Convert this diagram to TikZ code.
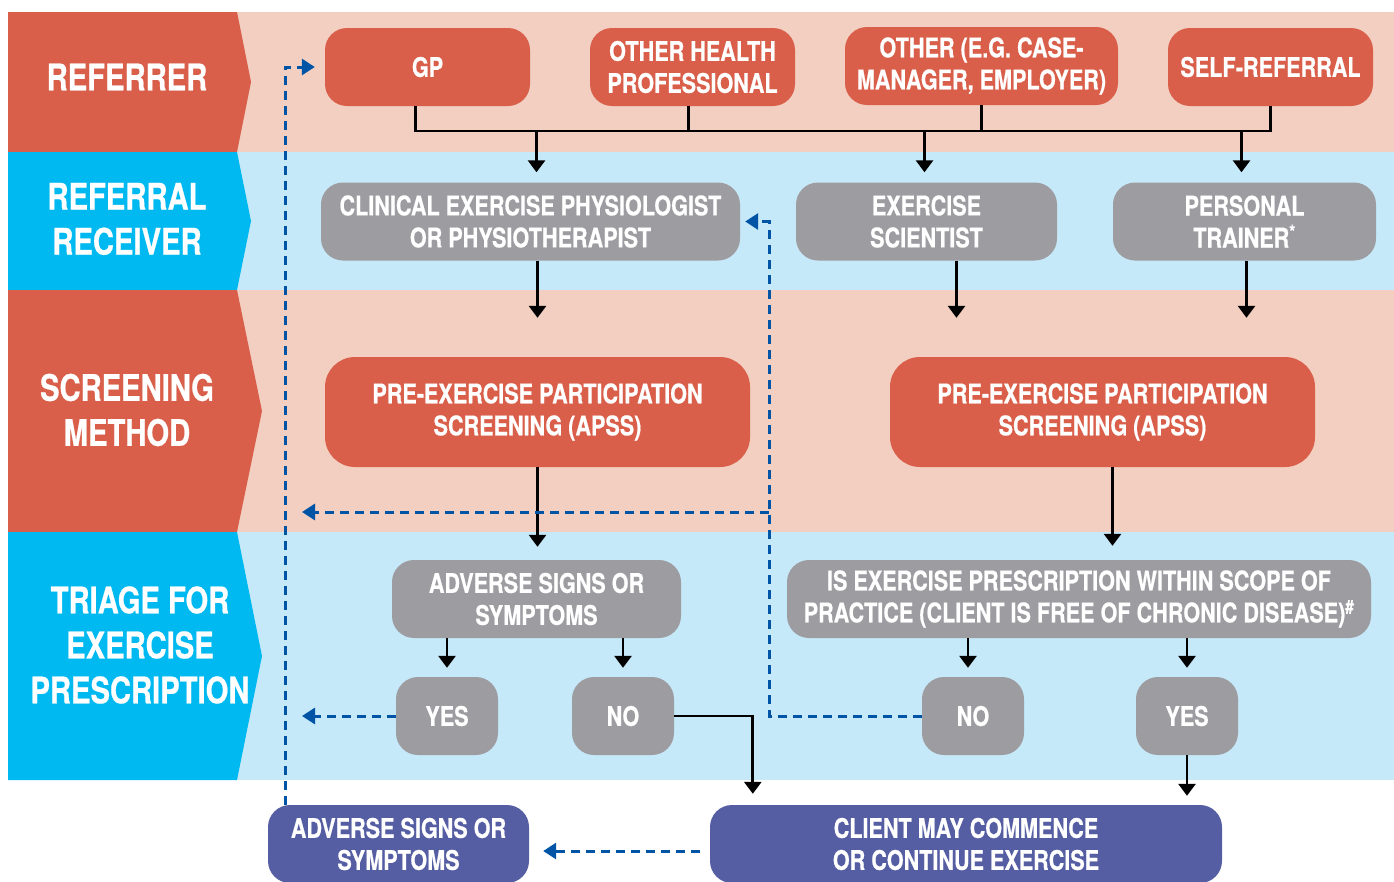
\documentclass[tikz,border=0pt]{standalone}
\usepackage{fontspec}
\setmainfont{TeX Gyre Heros}[FakeStretch=0.8, BoldFeatures={FakeBold=0.6}]
\usepackage{tikz}
\usetikzlibrary{positioning, calc, arrows.meta}
\definecolor{lanered}{RGB}{217,95,74}
\definecolor{lanepink}{RGB}{242,207,193}
\definecolor{lanecyan}{RGB}{0,185,240}
\definecolor{laneblue}{RGB}{198,233,249}
\definecolor{boxgrey}{RGB}{157,156,161}
\definecolor{boxpurple}{RGB}{86,94,163}
\definecolor{backblue}{RGB}{0,84,166}
\tikzstyle{Flow} = [
    line width = 2.8pt,
    -{Triangle[width=17pt, length=12pt]}
]
\tikzstyle{Link} = [line width = 2.8pt]
\tikzstyle{Back} = [
    line width = 3pt, draw = backblue,
    dash pattern = on 9pt off 6pt,
    -{Triangle[width=16pt, length=13pt]}
]

\begin{document}
\begin{tikzpicture}[
x = 1pt, y = -1pt,
box/.style={
    rectangle,
    rounded corners = 22pt,
    align = center,
    text = white,
    inner sep = 0pt,
    minimum height = 78pt,
    font = \fontsize{27}{32}\selectfont\bfseries
    },
redbox/.style = {box, fill = lanered},
greybox/.style = {box, fill = boxgrey},
purplebox/.style = {box, fill = boxpurple},
lanetext/.style = {
    align = center,
    text = white,
    font = \fontsize{36.5}{45}\selectfont\bfseries
    }
]
\useasboundingbox (0,0) rectangle (1394,881);
\clip (0,0) rectangle (1394,881);

% lanes
\fill[lanepink] (8,12) rectangle (1394,152);
\fill[laneblue] (8,152) rectangle (1394,290);
\fill[lanepink] (8,290) rectangle (1394,532);
\fill[laneblue] (8,532) rectangle (1394,780);

\fill[lanered] (8,12) -- (237,12) -- (251,82) -- (237,152) -- (8,152) -- cycle;
\fill[lanecyan] (8,152) -- (237,152) -- (251,221) -- (237,290) -- (8,290) -- cycle;
\fill[lanered] (8,290) -- (237,290) -- (262,411) -- (237,532) -- (8,532) -- cycle;
\fill[lanecyan] (8,532) -- (237,532) -- (262,656) -- (237,780) -- (8,780) -- cycle;

\node[lanetext] (referrer) at (127,77) {REFERRER};
\node[lanetext] (receiver) at (127,219) {REFERRAL\\RECEIVER};
\node[lanetext] (method) at (127,410) {SCREENING\\METHOD};
\node[lanetext] (triage) at (140,645) {TRIAGE FOR\\EXERCISE\\PRESCRIPTION};

% referrers
\node[redbox, minimum width = 205pt] (gp) at (427.5,67) {GP};
\node[redbox, minimum width = 205pt] (ohp) at (692.5,67) {OTHER HEALTH\\PROFESSIONAL};
\node[redbox, minimum width = 273pt] (other) at (981.5,66) {OTHER (E.G. CASE-\\MANAGER, EMPLOYER)};
\node[redbox, minimum width = 205pt] (self) at (1270.5,67) {SELF-REFERRAL};

% receivers
\node[greybox, minimum width = 419pt] (cep) at (530.5,221.5) {CLINICAL EXERCISE PHYSIOLOGIST\\OR PHYSIOTHERAPIST};
\node[greybox, minimum width = 261pt] (es) at (926.5,221.5) {EXERCISE\\SCIENTIST};
\node[greybox, minimum width = 263pt] (pt) at (1244.5,221.5) {PERSONAL\\TRAINER\textsuperscript{*}};

% screening
\node[redbox, rounded corners = 30pt, minimum width = 425pt, minimum height = 110pt] (apssl) at (537.5,412) {PRE-EXERCISE PARTICIPATION\\SCREENING (APSS)};
\node[redbox, rounded corners = 30pt, minimum width = 425pt, minimum height = 110pt] (apssr) at (1102.5,412) {PRE-EXERCISE PARTICIPATION\\SCREENING (APSS)};

% triage
\node[greybox, minimum width = 289pt] (signs) at (536.5,599) {ADVERSE SIGNS OR\\SYMPTOMS};
\node[greybox, minimum width = 584pt] (scope) at (1079,599) {IS EXERCISE PRESCRIPTION WITHIN SCOPE OF\\PRACTICE (CLIENT IS FREE OF CHRONIC DISEASE)\textsuperscript{\#}};
\node[greybox, minimum width = 102pt] (yesl) at (447,716) {YES};
\node[greybox, minimum width = 102pt] (nol) at (623,716) {NO};
\node[greybox, minimum width = 102pt] (nor) at (973,716) {NO};
\node[greybox, minimum width = 102pt] (yesr) at (1187,716) {YES};

% outcomes
\node[purplebox, minimum width = 261pt] (signs2) at (398.5,844) {ADVERSE SIGNS OR\\SYMPTOMS};
\node[purplebox, minimum width = 512pt] (client) at (966,844) {CLIENT MAY COMMENCE\\OR CONTINUE EXERCISE};

\coordinate (bus) at (0,131);
\coordinate (loopx) at (285,0);
\coordinate (tipx) at (302,0);
\coordinate (bendx) at (769,0);
\coordinate (join) at (769,512);

% referrer tree
\draw[Link] ([xshift=-12pt]gp.south) -- ([xshift=-12pt]gp.south |- bus) -- (self.south |- bus) -- (self.south);
\draw[Link] ([xshift=-4pt]ohp.south) -- ([xshift=-4pt]ohp.south |- bus);
\draw[Link] (other.south) -- (other.south |- bus);
\draw[Flow, shorten >= 10pt] ([xshift=6pt]cep.north |- bus) -- ([xshift=6pt]cep.north);
\draw[Flow, shorten >= 10pt] ([xshift=-2pt]es.north |- bus) -- ([xshift=-2pt]es.north);
\draw[Flow, shorten >= 10pt] ([xshift=-3pt]pt.north |- bus) -- ([xshift=-3pt]pt.north);

% receivers to screening
\draw[Flow, shorten >= 39pt] (apssl.north |- cep.south) -- (apssl.north);
\draw[Flow, shorten >= 39pt] ([xshift=30pt]es.south) -- ([xshift=30pt]es.south |- apssr.north);
\draw[Flow, shorten >= 39pt] ([xshift=2pt]pt.south) -- ([xshift=2pt]pt.south |- apssr.north);

% screening to triage
\draw[Flow, shorten >= 13pt] (apssl.south) -- (apssl.south |- signs.north);
\draw[Flow, shorten >= 14pt] ([xshift=10pt]apssr.south) -- ([xshift=10pt]apssr.south |- scope.north);

\draw[Flow, shorten >= 9pt] (yesl.north |- signs.south) -- (yesl.north);
\draw[Flow, shorten >= 9pt] (nol.north |- signs.south) -- (nol.north);
\draw[Flow, shorten >= 9pt] ([xshift=-5pt]nor.north |- scope.south) -- ([xshift=-5pt]nor.north);
\draw[Flow, shorten >= 9pt] (yesr.north |- scope.south) -- (yesr.north);

% to outcomes
\draw[Flow, shorten >= 11pt] (nol.east) -| ([xshift=43pt]client.north west);
\draw[Flow, shorten >= 9pt] (yesr.south) -- (yesr.south |- client.north);

% dashed returns
\draw[Back, shorten >= 10pt] (signs2.north -| loopx) |- (gp.west);
\draw[Back] (yesl.west) -- (yesl.west -| tipx);
\draw[Back, shorten >= 5pt] (nor.west) -- (nor.west -| bendx) |- (cep.east);
\draw[Back] (join) -- (join -| tipx);
\draw[Back, shorten <= 10pt, shorten >= 14pt] ([yshift=-7pt]client.west) -- ([yshift=-7pt]client.west -| signs2.east);

\end{tikzpicture}
\end{document}
